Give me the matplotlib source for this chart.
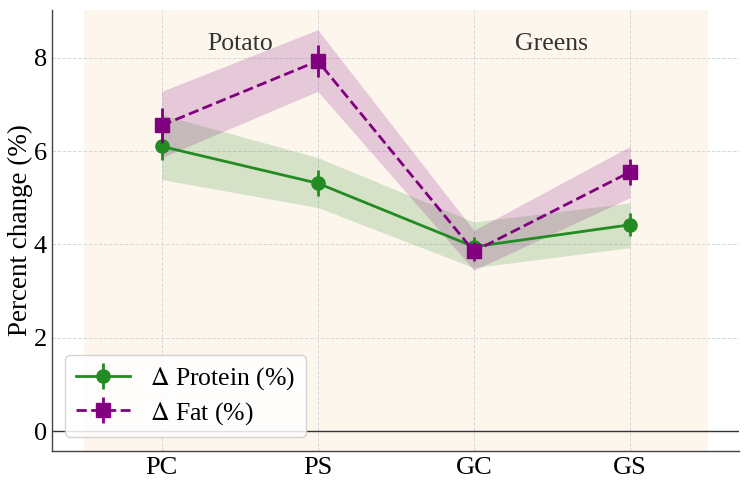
import matplotlib
matplotlib.use("Agg")
import matplotlib.pyplot as plt
import numpy as np

plt.rcParams["font.family"] = ["Liberation Serif", "DejaVu Serif"]
plt.rcParams["mathtext.fontset"] = "stix"

groups      = ["PC", "PS", "GC", "GS"]
protein     = [6.10, 5.31, 3.95, 4.42]
protein_err = [0.30, 0.28, 0.20, 0.25]
protein_lo  = [5.39, 4.79, 3.50, 3.93]
protein_hi  = [6.78, 5.86, 4.48, 4.89]
fat         = [6.55, 7.93, 3.85, 5.55]
fat_err     = [0.38, 0.35, 0.20, 0.28]
fat_lo      = [5.86, 7.28, 3.45, 5.00]
fat_hi      = [7.28, 8.60, 4.30, 6.10]
sections    = ["Potato", "Greens"]

x = np.arange(len(groups))

fig = plt.figure(figsize=(7.49, 4.82), dpi=100)
ax = fig.add_axes([0.07, 0.064, 0.917, 0.916])

ax.axvspan(-0.5, 3.5, color="#fdf6ec", lw=0, zorder=0)
ax.grid(True, ls="--", color="#d8d8d8", lw=0.7, zorder=1)
ax.axhline(0, color="#333333", lw=1.0, zorder=2)

ax.fill_between(x, protein_lo, protein_hi, color="#228B22", alpha=0.18, lw=0, zorder=2)
ax.fill_between(x, fat_lo, fat_hi, color="#800080", alpha=0.18, lw=0, zorder=2)

ax.errorbar(x, protein, yerr=protein_err, color="#228B22", marker="o", ms=9.5,
            lw=2, elinewidth=2, ls="-", label=r"$\Delta$ Protein (%)", zorder=4)
ax.errorbar(x, fat, yerr=fat_err, color="#800080", marker="s", ms=9.5,
            lw=2, elinewidth=2, ls="--", label=r"$\Delta$ Fat (%)", zorder=5)

ax.text(0.5, 8.3, sections[0], ha="center", va="center", fontsize=18.5, color="#333333")
ax.text(2.5, 8.3, sections[1], ha="center", va="center", fontsize=18.5, color="#333333")

ax.set_xlim(-0.7, 3.7)
ax.set_ylim(-0.43, 9.03)
ax.set_xticks(x)
ax.set_xticklabels(groups)
ax.set_yticks([0, 2, 4, 6, 8])
ax.tick_params(labelsize=19, length=0, pad=4)
ax.set_ylabel("Percent change (%)", fontsize=19.5, labelpad=0.5)

for s in ["top", "right"]:
	ax.spines[s].set_visible(False)
for s in ["left", "bottom"]:
	ax.spines[s].set_color("#444444")
	ax.spines[s].set_linewidth(1.0)

ax.legend(loc="lower left", fontsize=18.5, framealpha=0.85, borderpad=0.4,
          handlelength=2.1, labelspacing=0.3, borderaxespad=0,
          bbox_to_anchor=(0.019, 0.032))

fig.savefig("out.png", dpi=100)
plt.close()
